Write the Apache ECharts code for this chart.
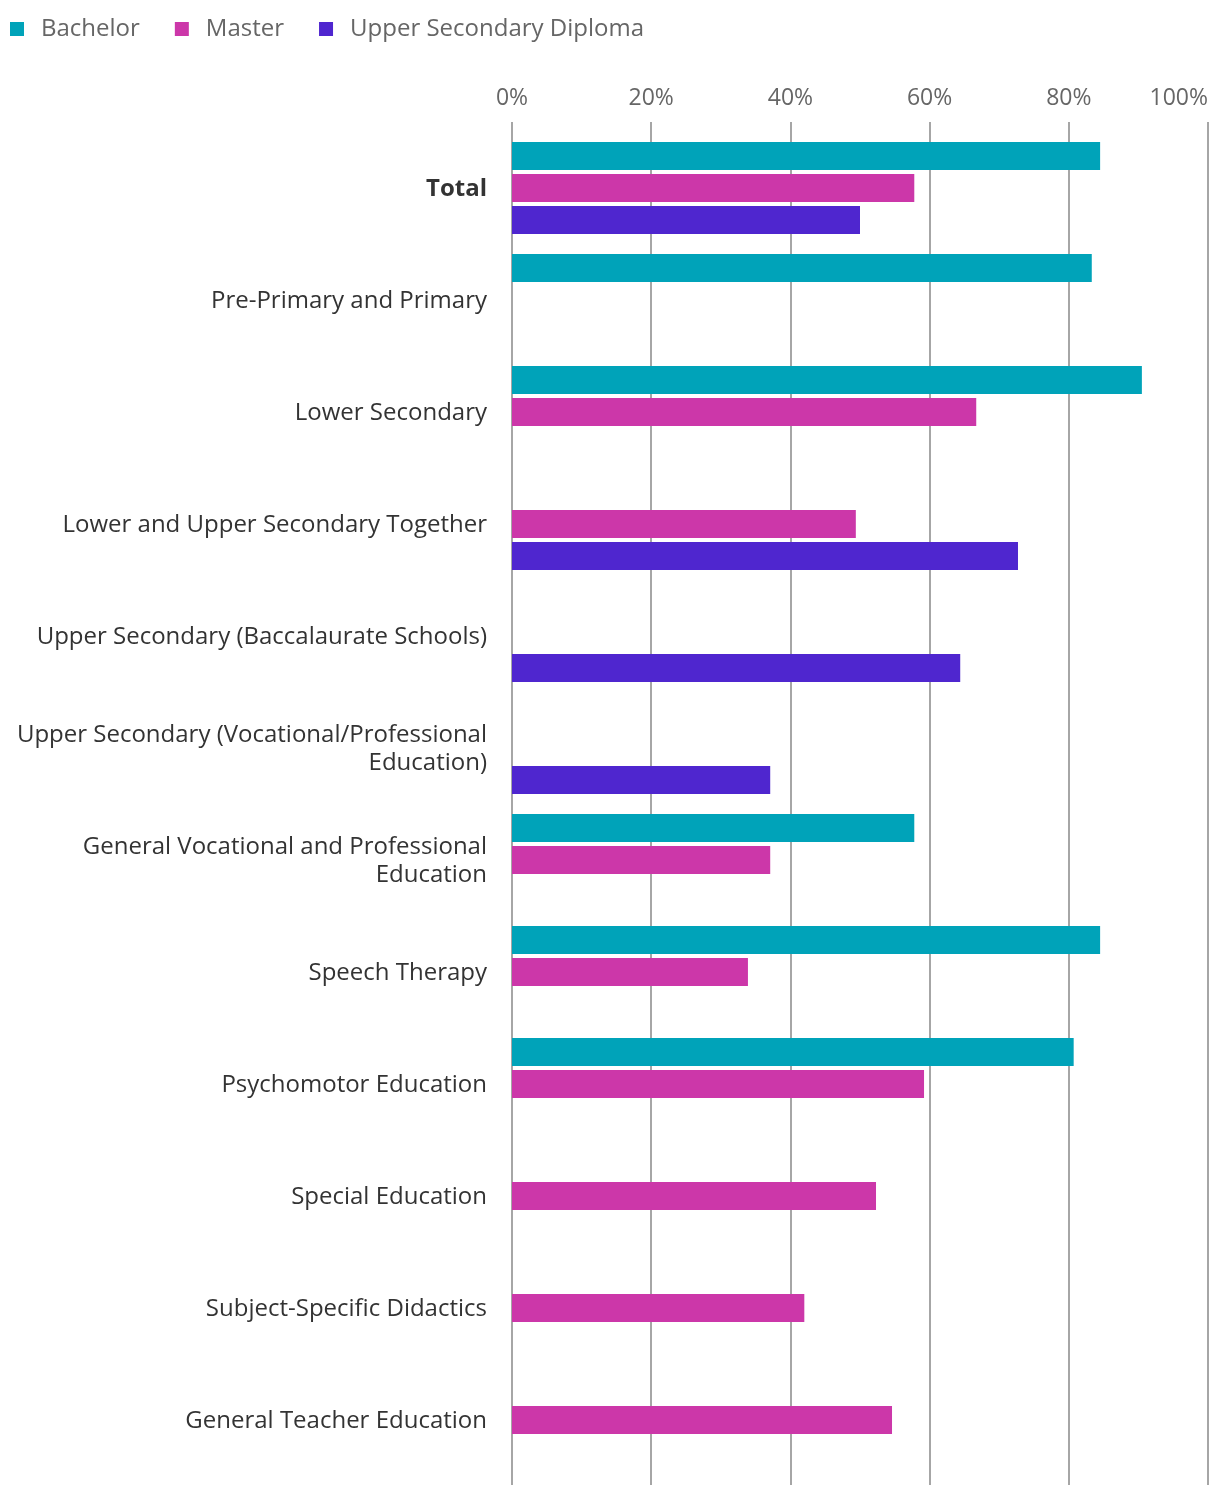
<!DOCTYPE html>
<html>
<head>
<meta charset="utf-8">
<script src="https://cdn.jsdelivr.net/npm/echarts@6/dist/echarts.min.js"></script>
<style>
html,body{margin:0;padding:0;background:#fff;}
#chart{width:1220px;height:1498px;}
</style>
</head>
<body>
<div id="chart"></div>
<script>
var categories = [
  'Total',
  'Pre-Primary and Primary',
  'Lower Secondary',
  'Lower and Upper Secondary Together',
  'Upper Secondary (Baccalaurate Schools)',
  'Upper Secondary (Vocational/Professional\nEducation)',
  'General Vocational and Professional\nEducation',
  'Speech Therapy',
  'Psychomotor Education',
  'Special Education',
  'Subject-Specific Didactics',
  'General Teacher Education'
];
var bachelor = [84.5, 83.3, 90.5, null, null, null, 57.8, 84.5, 80.7, null, null, null];
var master = [57.8, null, 66.7, 49.4, null, null, 37.1, 33.9, 59.2, 52.3, 42.0, 54.6];
var upperSecondaryDiploma = [50.0, null, null, 72.7, 64.4, 37.1, null, null, null, null, null, null];
var seriesNames = ['Bachelor', 'Master', 'Upper Secondary Diploma'];
var colors = ['#00a3b9', '#cc37a9', '#4f26cf'];

var font = "'Open Sans', 'Noto Sans', sans-serif";
var chart = echarts.init(document.getElementById('chart'), null, {renderer: 'canvas'});
function mk(name, data, i) {
  return {
    name: name, type: 'bar', data: data,
    xAxisIndex: 1, yAxisIndex: 1,
    barWidth: 28, barGap: '14.3%',
    itemStyle: {color: colors[i]},
    animation: false
  };
}
chart.setOption({
  animation: false,
  textStyle: {fontFamily: font},
  color: colors,
  legend: {
    left: 10, top: 17, padding: 0,
    icon: 'rect', itemWidth: 14, itemHeight: 14, itemGap: 35,
    textStyle: {fontSize: 24, color: '#666', fontFamily: font, padding: [0, 0, 0, 12]},
    data: seriesNames
  },
  grid: [
    {left: 512, right: 12, top: 122, height: 1363, containLabel: false},
    {left: 512, right: 12, top: 132, height: 1344, containLabel: false}
  ],
  xAxis: [
    {
      gridIndex: 0, type: 'value', position: 'top', min: 0, max: 100, interval: 20,
      axisLine: {show: false}, axisTick: {show: false},
      axisLabel: {formatter: '{value}%', fontSize: 23, color: '#666', margin: 12, fontFamily: font, alignMaxLabel: 'right'},
      splitLine: {show: true, lineStyle: {color: '#888', width: 1.5}}
    },
    {
      gridIndex: 1, type: 'value', min: 0, max: 100, show: false
    }
  ],
  yAxis: [
    {gridIndex: 0, type: 'value', show: false, min: 0, max: 1},
    {
      gridIndex: 1, type: 'category', inverse: true, data: categories,
      axisLine: {show: false}, axisTick: {show: false},
      splitLine: {show: false},
      axisLabel: {
        margin: 25, fontSize: 24, color: '#333', lineHeight: 28, fontFamily: font,
        padding: [3, 0, 0, 0],
        formatter: function (v) { return v === 'Total' ? '{b|' + v + '}' : v; },
        rich: {b: {fontWeight: 'bold', fontSize: 24, color: '#333', fontFamily: font}}
      }
    }
  ],
  series: [
    mk(seriesNames[0], bachelor, 0),
    mk(seriesNames[1], master, 1),
    mk(seriesNames[2], upperSecondaryDiploma, 2)
  ]
});
</script>
</body>
</html>
